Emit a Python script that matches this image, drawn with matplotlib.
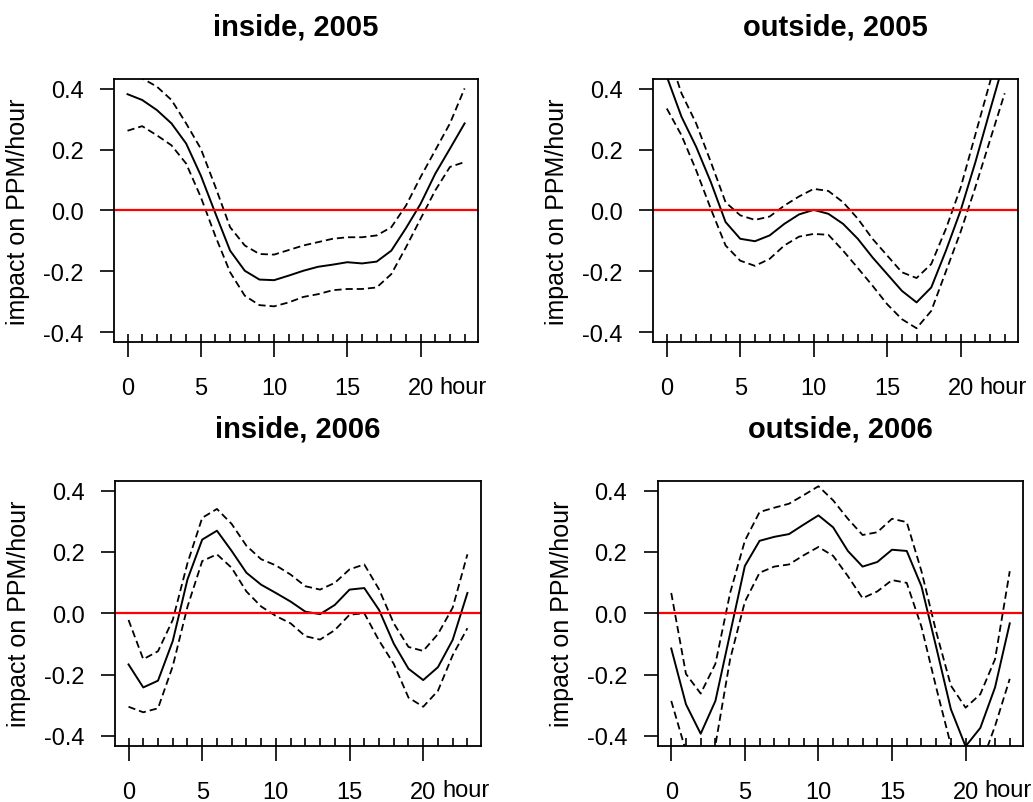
import matplotlib
matplotlib.use("Agg")
import matplotlib.pyplot as plt

plt.rcParams["font.family"] = ["Liberation Sans", "DejaVu Sans"]

# hour of day (x axis)
hours = list(range(24))

# -------------------------------
# inside, 2005
# -------------------------------
in05_fit = [0.382, 0.363, 0.330, 0.286, 0.220, 0.115, -0.010, -0.132, -0.198, -0.227, -0.229, -0.214,
            -0.198, -0.185, -0.178, -0.170, -0.174, -0.168, -0.132, -0.058, 0.022, 0.121, 0.203, 0.286]
in05_hi = [0.456, 0.434, 0.407, 0.363, 0.286, 0.203, 0.077, -0.055, -0.115, -0.143, -0.145, -0.130,
           -0.115, -0.104, -0.093, -0.088, -0.088, -0.082, -0.055, 0.016, 0.110, 0.198, 0.286, 0.401]
in05_lo = [0.262, 0.277, 0.247, 0.214, 0.154, 0.044, -0.085, -0.203, -0.280, -0.311, -0.315, -0.302,
           -0.284, -0.275, -0.262, -0.258, -0.258, -0.253, -0.209, -0.121, -0.027, 0.066, 0.143, 0.159]

# -------------------------------
# outside, 2005
# -------------------------------
out05_fit = [0.440, 0.308, 0.209, 0.093, -0.038, -0.093, -0.101, -0.082, -0.044, -0.013, 0.002, -0.011,
             -0.044, -0.093, -0.154, -0.209, -0.264, -0.302, -0.253, -0.132, 0.000, 0.158, 0.329, 0.497]
out05_hi = [0.530, 0.385, 0.286, 0.159, 0.027, -0.016, -0.031, -0.020, 0.016, 0.046, 0.071, 0.064,
            0.027, -0.027, -0.093, -0.148, -0.203, -0.222, -0.176, -0.060, 0.075, 0.249, 0.422, 0.600]
out05_lo = [0.335, 0.247, 0.132, 0.005, -0.115, -0.165, -0.182, -0.159, -0.115, -0.086, -0.077, -0.080,
            -0.132, -0.189, -0.247, -0.308, -0.357, -0.387, -0.330, -0.200, -0.070, 0.076, 0.231, 0.385]

# -------------------------------
# inside, 2006
# -------------------------------
in06_fit = [-0.167, -0.242, -0.220, -0.091, 0.110, 0.240, 0.269, 0.203, 0.132, 0.093, 0.066, 0.038,
            0.005, -0.003, 0.027, 0.077, 0.082, 0.011, -0.099, -0.181, -0.218, -0.176, -0.087, 0.066]
in06_hi = [-0.022, -0.150, -0.124, -0.022, 0.163, 0.311, 0.340, 0.291, 0.220, 0.176, 0.156, 0.126,
           0.088, 0.077, 0.099, 0.143, 0.159, 0.078, -0.033, -0.110, -0.123, -0.068, 0.018, 0.192]
in06_lo = [-0.305, -0.323, -0.310, -0.173, 0.021, 0.170, 0.192, 0.148, 0.071, 0.022, -0.009, -0.033,
           -0.075, -0.086, -0.055, -0.005, 0.000, -0.089, -0.165, -0.275, -0.305, -0.253, -0.137, -0.049]

# -------------------------------
# outside, 2006
# -------------------------------
out06_fit = [-0.115, -0.297, -0.393, -0.286, -0.066, 0.154, 0.236, 0.249, 0.258, 0.289, 0.319, 0.280,
             0.203, 0.152, 0.167, 0.207, 0.203, 0.088, -0.110, -0.313, -0.434, -0.374, -0.242, -0.033]
out06_hi = [0.066, -0.198, -0.262, -0.165, 0.066, 0.236, 0.330, 0.344, 0.357, 0.385, 0.414, 0.368,
            0.308, 0.255, 0.264, 0.308, 0.297, 0.137, -0.060, -0.236, -0.308, -0.264, -0.150, 0.137]
out06_lo = [-0.286, -0.450, -0.520, -0.430, -0.150, 0.037, 0.132, 0.152, 0.159, 0.189, 0.216, 0.187,
            0.121, 0.049, 0.071, 0.108, 0.099, -0.044, -0.242, -0.430, -0.560, -0.500, -0.368, -0.214]

panels = [
    ("inside, 2005", in05_fit, in05_lo, in05_hi),
    ("outside, 2005", out05_fit, out05_lo, out05_hi),
    ("inside, 2006", in06_fit, in06_lo, in06_hi),
    ("outside, 2006", out06_fit, out06_lo, out06_hi),
]

# axes boxes (left, bottom, width, height) in figure fractions
boxes = [
    [0.1104, 0.5729, 0.3524, 0.3275],
    [0.6324, 0.5729, 0.3533, 0.3275],
    [0.1113, 0.0701, 0.3543, 0.3300],
    [0.6367, 0.0701, 0.3539, 0.3300],
]

yticks = [-0.4, -0.2, 0.0, 0.2, 0.4]
ytick_labels = ["-0.4", "-0.2", "0.0", "0.2", "0.4"]
xticks = [0, 5, 10, 15, 20]

fig = plt.figure(figsize=(10.33, 8.03), dpi=100)

for (title, fit, lo, hi), box in zip(panels, boxes):
    ax = fig.add_axes(box)
    ax.plot(hours, fit, color="black", lw=1.4)
    ax.plot(hours, hi, color="black", lw=1.3, dashes=(4, 2.2))
    ax.plot(hours, lo, color="black", lw=1.3, dashes=(4, 2.2))
    ax.axhline(0, color="red", lw=1.6)

    ax.set_xlim(-0.92, 23.92)
    ax.set_ylim(-0.432, 0.432)

    # y axis: outward ticks, plain labels
    ax.set_yticks(yticks)
    ax.set_yticklabels(ytick_labels)
    ax.tick_params(axis="y", direction="out", length=10, width=1.2, pad=12, labelsize=17)

    # x axis: hourly ticks inside, long ticks every 5 hours
    ax.set_xticks(xticks)
    ax.set_xticks(hours, minor=True)
    ax.xaxis.remove_overlapping_locs = False
    ax.tick_params(axis="x", which="major", direction="out", length=10.5, width=1.2, pad=15, labelsize=17)
    ax.tick_params(axis="x", which="minor", direction="in", length=5.5, width=1.2)
    ax.annotate("hour", xy=(21.3, 0), xycoords=("data", "axes fraction"),
                xytext=(0, -36.5), textcoords="offset points",
                ha="left", va="baseline", fontsize=17)

    for s in ax.spines.values():
        s.set_linewidth(1.3)

    ax.set_title(title, fontsize=21, fontweight="bold", pad=32)
    ax.set_ylabel("impact on PPM/hour", fontsize=18)
    ax.yaxis.set_label_coords(-0.23, 0.5)

fig.savefig("out.png", dpi=100)
